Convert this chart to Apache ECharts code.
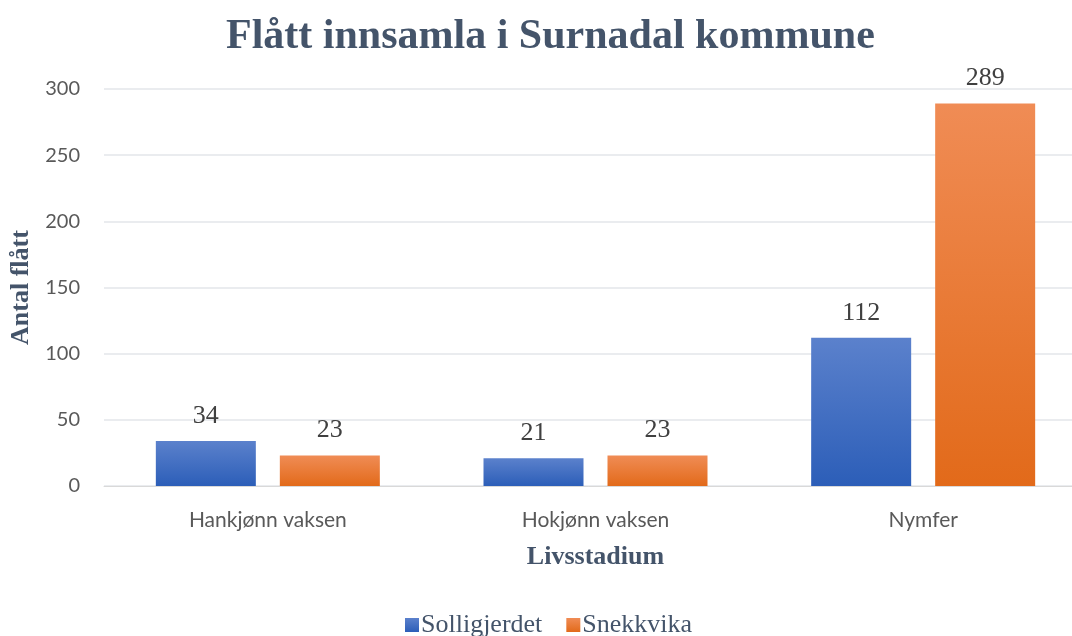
<!DOCTYPE html>
<html>
<head>
<meta charset="utf-8">
<script src="https://cdn.jsdelivr.net/npm/echarts@6/dist/echarts.min.js"></script>
<style>
  html, body { margin: 0; padding: 0; background: #fff; }
  #chart { width: 1072px; height: 636px; }
</style>
</head>
<body>
<div id="chart"></div>
<script>
const categories = ["Hankjønn vaksen", "Hokjønn vaksen", "Nymfer"];
const solligjerdet = [34, 21, 112];
const snekkvika = [23, 23, 289];
const yTicks = [0, 50, 100, 150, 200, 250, 300];

const serif = "'Liberation Serif', 'DejaVu Serif', serif";
const sans = "Lato, 'Noto Sans', sans-serif";

function grad(top, bottom) {
  return new echarts.graphic.LinearGradient(0, 0, 0, 1, [
    { offset: 0, color: top },
    { offset: 1, color: bottom },
  ]);
}

let chart = echarts.init(document.getElementById("chart"));
let labelStyle = {
  show: true,
  position: "top",
  distance: 12,
  fontFamily: serif,
  fontSize: 26,
  color: "#404040",
};
let option = {
  animation: false,
  title: {
    text: "Flått innsamla i Surnadal kommune",
    left: 221,
    top: 11,
    textStyle: { fontFamily: serif, fontSize: 42, fontWeight: "bold", color: "#44546a" },
  },
  legend: {
    top: 607,
    left: 400,
    itemWidth: 14,
    itemHeight: 14,
    itemGap: 24,
    icon: "rect",
    textStyle: { fontFamily: serif, fontSize: 26, color: "#44546a", padding: [0, 0, 0, -3] },
    data: ["Solligjerdet", "Snekkvika"],
  },
  grid: { left: 104, width: 983, top: 89, height: 397, outerBoundsMode: "none" },
  xAxis: {
    type: "category",
    data: categories,
    name: "Livsstadium",
    nameLocation: "middle",
    nameGap: 58,
    nameTextStyle: { fontFamily: serif, fontSize: 26, fontWeight: "bold", color: "#44546a" },
    axisTick: { show: false },
    axisLine: { lineStyle: { color: "#d9d9d9" } },
    axisLabel: { fontFamily: sans, fontSize: 21, color: "#595959", margin: 24 },
  },
  yAxis: {
    type: "value",
    min: yTicks[0],
    max: yTicks[yTicks.length - 1],
    interval: 50,
    name: "Antal flått",
    nameLocation: "middle",
    nameGap: 59,
    nameTextStyle: { fontFamily: serif, fontSize: 26, fontWeight: "bold", color: "#44546a" },
    axisLabel: { fontFamily: sans, fontSize: 20, color: "#595959", margin: 24 },
    splitLine: { lineStyle: { color: "#e3e6ea", width: 1.5 } },
  },
  series: [
    {
      name: "Solligjerdet",
      type: "bar",
      data: solligjerdet,
      barWidth: 100,
      barGap: "24%",
      itemStyle: { color: grad("#5b81cc", "#2c5eb8") },
      label: labelStyle,
    },
    {
      name: "Snekkvika",
      type: "bar",
      data: snekkvika,
      barWidth: 100,
      itemStyle: { color: grad("#f08c55", "#e26a1a") },
      label: labelStyle,
    },
  ],
};
chart.setOption(option);
</script>
</body>
</html>
